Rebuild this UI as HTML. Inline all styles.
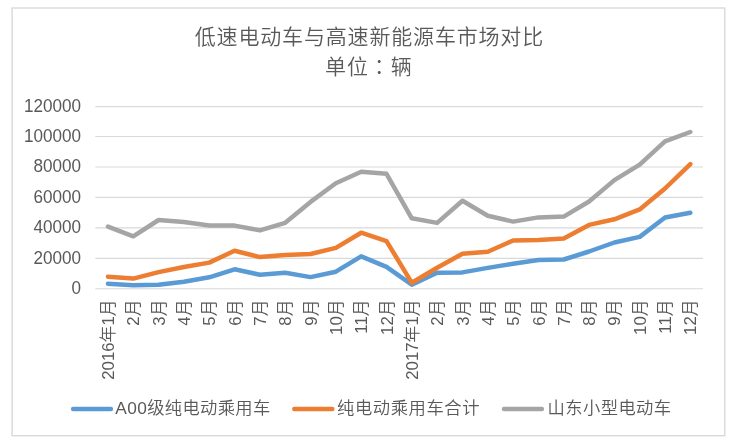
<!DOCTYPE html>
<html><head><meta charset="utf-8"><style>
html,body{margin:0;padding:0;background:#fff;}
svg{display:block;}
text{font-family:"Liberation Sans", "Noto Sans CJK SC", sans-serif;fill:#595959;}
.t{font-size:21px;font-weight:350;letter-spacing:0.83px;}
.yl{font-size:18.2px;}
.xl{font-size:16.8px;font-weight:350;}
.lg{font-size:17.3px;font-weight:350;}
</style></head><body>
<div style="will-change:transform;width:738px;height:441px"><svg style="filter:blur(0.35px)" width="738" height="441" viewBox="0 0 738 441">
<rect x="12.1" y="8.0" width="712.7" height="427.7" fill="#fff" stroke="#d9d9d9" stroke-width="1.4"/>
<line x1="95.3" y1="288.73" x2="703.0" y2="288.73" stroke="#d9d9d9" stroke-width="1.2"/>
<line x1="95.3" y1="258.37" x2="703.0" y2="258.37" stroke="#d9d9d9" stroke-width="1.2"/>
<line x1="95.3" y1="227.92" x2="703.0" y2="227.92" stroke="#d9d9d9" stroke-width="1.2"/>
<line x1="95.3" y1="197.44" x2="703.0" y2="197.44" stroke="#d9d9d9" stroke-width="1.2"/>
<line x1="95.3" y1="166.98" x2="703.0" y2="166.98" stroke="#d9d9d9" stroke-width="1.2"/>
<line x1="95.3" y1="136.50" x2="703.0" y2="136.50" stroke="#d9d9d9" stroke-width="1.2"/>
<line x1="95.3" y1="106.62" x2="703.0" y2="106.62" stroke="#d9d9d9" stroke-width="1.2"/>
<text transform="translate(81.0,294.13) scale(0.94,1)" text-anchor="end" class="yl">0</text>
<text transform="translate(81.0,263.77) scale(0.94,1)" text-anchor="end" class="yl">20000</text>
<text transform="translate(81.0,233.32) scale(0.94,1)" text-anchor="end" class="yl">40000</text>
<text transform="translate(81.0,202.84) scale(0.94,1)" text-anchor="end" class="yl">60000</text>
<text transform="translate(81.0,172.38) scale(0.94,1)" text-anchor="end" class="yl">80000</text>
<text transform="translate(81.0,141.90) scale(0.94,1)" text-anchor="end" class="yl">100000</text>
<text transform="translate(81.0,112.02) scale(0.94,1)" text-anchor="end" class="yl">120000</text>
<text transform="translate(114.06,299.50) rotate(-90)" text-anchor="end" class="xl">2016年1月</text>
<text transform="translate(139.38,299.50) rotate(-90)" text-anchor="end" class="xl">2月</text>
<text transform="translate(164.70,299.50) rotate(-90)" text-anchor="end" class="xl">3月</text>
<text transform="translate(190.02,299.50) rotate(-90)" text-anchor="end" class="xl">4月</text>
<text transform="translate(215.34,299.50) rotate(-90)" text-anchor="end" class="xl">5月</text>
<text transform="translate(240.66,299.50) rotate(-90)" text-anchor="end" class="xl">6月</text>
<text transform="translate(265.99,299.50) rotate(-90)" text-anchor="end" class="xl">7月</text>
<text transform="translate(291.31,299.50) rotate(-90)" text-anchor="end" class="xl">8月</text>
<text transform="translate(316.63,299.50) rotate(-90)" text-anchor="end" class="xl">9月</text>
<text transform="translate(341.95,299.50) rotate(-90)" text-anchor="end" class="xl">10月</text>
<text transform="translate(367.27,299.50) rotate(-90)" text-anchor="end" class="xl">11月</text>
<text transform="translate(392.59,299.50) rotate(-90)" text-anchor="end" class="xl">12月</text>
<text transform="translate(417.91,299.50) rotate(-90)" text-anchor="end" class="xl">2017年1月</text>
<text transform="translate(443.23,299.50) rotate(-90)" text-anchor="end" class="xl">2月</text>
<text transform="translate(468.55,299.50) rotate(-90)" text-anchor="end" class="xl">3月</text>
<text transform="translate(493.87,299.50) rotate(-90)" text-anchor="end" class="xl">4月</text>
<text transform="translate(519.19,299.50) rotate(-90)" text-anchor="end" class="xl">5月</text>
<text transform="translate(544.51,299.50) rotate(-90)" text-anchor="end" class="xl">6月</text>
<text transform="translate(569.84,299.50) rotate(-90)" text-anchor="end" class="xl">7月</text>
<text transform="translate(595.16,299.50) rotate(-90)" text-anchor="end" class="xl">8月</text>
<text transform="translate(620.48,299.50) rotate(-90)" text-anchor="end" class="xl">9月</text>
<text transform="translate(645.80,299.50) rotate(-90)" text-anchor="end" class="xl">10月</text>
<text transform="translate(671.12,299.50) rotate(-90)" text-anchor="end" class="xl">11月</text>
<text transform="translate(696.44,299.50) rotate(-90)" text-anchor="end" class="xl">12月</text>
<polyline points="107.96,283.70 133.28,285.20 158.60,284.70 183.92,281.80 209.24,277.30 234.56,269.30 259.89,274.70 285.21,272.80 310.53,277.10 335.85,271.70 361.17,256.30 386.49,266.80 411.81,284.70 437.13,272.70 462.45,272.40 487.77,267.90 513.09,263.80 538.41,260.00 563.74,259.50 589.06,251.50 614.38,242.50 639.70,236.90 665.02,217.50 690.34,212.80" fill="none" stroke="#5b9bd5" stroke-width="4.5" stroke-linejoin="round" stroke-linecap="round"/>
<polyline points="107.96,276.70 133.28,278.60 158.60,272.10 183.92,267.00 209.24,262.60 234.56,250.80 259.89,257.10 285.21,255.00 310.53,254.00 335.85,247.90 361.17,232.70 386.49,241.10 411.81,282.80 437.13,267.70 462.45,253.70 487.77,251.70 513.09,240.50 538.41,239.90 563.74,238.40 589.06,224.90 614.38,219.30 639.70,209.40 665.02,188.50 690.34,164.10" fill="none" stroke="#ed7d31" stroke-width="4.5" stroke-linejoin="round" stroke-linecap="round"/>
<polyline points="107.96,226.60 133.28,236.30 158.60,220.00 183.92,222.00 209.24,225.60 234.56,225.60 259.89,230.40 285.21,222.80 310.53,201.90 335.85,183.30 361.17,171.80 386.49,173.80 411.81,218.30 437.13,222.90 462.45,200.80 487.77,215.70 513.09,221.60 538.41,217.40 563.74,216.60 589.06,201.50 614.38,180.10 639.70,164.70 665.02,141.30 690.34,132.00" fill="none" stroke="#a5a5a5" stroke-width="4.5" stroke-linejoin="round" stroke-linecap="round"/>
<text x="369.4" y="44.3" text-anchor="middle" class="t">低速电动车与高速新能源车市场对比</text>
<text x="368.8" y="73.5" text-anchor="middle" class="t">单位<tspan style="font-family:&quot;Liberation Sans&quot;, &quot;Noto Sans CJK JP&quot;, sans-serif">：</tspan>辆</text>
<line x1="73.10000000000001" y1="409.0" x2="110.89999999999999" y2="409.0" stroke="#5b9bd5" stroke-width="4.5" stroke-linecap="round"/>
<text x="115.3" y="414.3" class="lg" style="letter-spacing:0.36px">A00级纯电动乘用车</text>
<line x1="294.3" y1="409.0" x2="332.3" y2="409.0" stroke="#ed7d31" stroke-width="4.5" stroke-linecap="round"/>
<text x="337.0" y="414.3" class="lg" style="letter-spacing:0.61px">纯电动乘用车合计</text>
<line x1="504.0" y1="409.0" x2="541.9" y2="409.0" stroke="#a5a5a5" stroke-width="4.5" stroke-linecap="round"/>
<text x="547.46" y="414.3" class="lg" style="letter-spacing:0.45px">山东小型电动车</text>
</svg></div>
</body></html>
